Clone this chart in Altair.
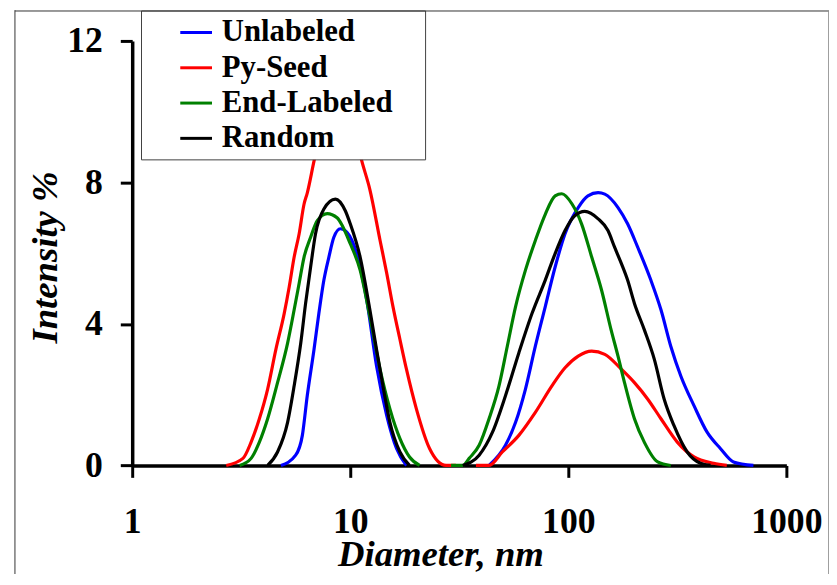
import altair as alt
import pandas as pd

series = ["Unlabeled", "Py-Seed", "End-Labeled", "Random"]
colors = ["#0000FF", "#FF0000", "#008000", "#000000"]
x_ticks = [1, 10, 100, 1000]
y_ticks = [0, 4, 8, 12]

# Unlabeled (blue)
unl_d1 = [4.81, 5.62, 6.03, 6.35, 6.82, 7.18, 7.57, 7.98, 8.41, 9.01, 9.66, 10.7, 11.9, 13.2, 14.7, 16.3, 18.1]
unl_i1 = [0, 0.29, 0.85, 1.97, 3.28, 4.30, 5.24, 5.89, 6.45, 6.69, 6.59, 5.99, 4.68, 2.81, 1.41, 0.48, 0]
unl_d2 = [43.3, 51.5, 57.3, 63.6, 70.6, 78.4, 87.0, 96.6, 111, 123, 137, 147, 169, 187, 208, 239, 266, 295, 328, 377, 433, 498, 572, 706]
unl_i2 = [0, 0.57, 1.22, 2.16, 3.37, 4.49, 5.61, 6.55, 7.29, 7.62, 7.71, 7.67, 7.29, 6.83, 6.17, 5.24, 4.40, 3.37, 2.53, 1.69, 0.94, 0.48, 0.10, 0]

# Py-Seed (red)
py_d1 = [2.70, 3.22, 3.51, 3.83, 4.18, 4.56, 4.98, 5.25, 5.53, 5.83, 6.14, 6.35, 6.82, 7.44, 8.09, 8.79, 9.56, 10.4, 11.3, 12.3, 13.7, 14.7, 15.7, 16.9, 18.1, 20.1, 23.1, 27.5, 30.5]
py_i1 = [0, 0.20, 0.66, 1.32, 2.16, 3.28, 4.30, 5.05, 5.89, 6.55, 7.39, 7.70, 8.60, 9.60, 10.1, 10.3, 10.1, 9.50, 8.60, 7.80, 6.36, 5.43, 4.49, 3.56, 2.72, 1.60, 0.48, 0, 0]
py_d2 = [37.7, 43.3, 49.8, 59.3, 70.6, 84.1, 96.6, 111, 128, 147, 175, 201, 231, 266, 316, 377, 464, 533]
py_i2 = [0, 0, 0.38, 0.85, 1.50, 2.25, 2.76, 3.09, 3.23, 3.14, 2.72, 2.34, 1.88, 1.32, 0.66, 0.24, 0.06, 0]

# End-Labeled (green)
end_d1 = [3.11, 3.51, 3.83, 4.18, 4.64, 5.16, 5.53, 5.83, 6.14, 6.58, 7.06, 7.84, 8.70, 10.0, 11.1, 12.3, 13.7, 15.2, 16.9, 18.7, 20.8]
end_i1 = [0, 0.20, 0.66, 1.32, 2.34, 3.46, 4.40, 5.15, 5.89, 6.45, 6.92, 7.12, 7.00, 6.27, 5.52, 4.21, 2.72, 1.60, 0.76, 0.24, 0]
end_d2 = [29.0, 32.8, 35.1, 39.0, 43.3, 48.1, 52.5, 57.3, 63.6, 70.6, 78.4, 87.0, 93.3, 104, 115, 128, 142, 157, 169, 181, 201, 223, 257, 295]
end_i2 = [0, 0, 0.20, 0.57, 1.32, 2.25, 3.37, 4.49, 5.52, 6.36, 7.10, 7.62, 7.68, 7.39, 6.83, 5.89, 4.96, 3.84, 3.09, 2.34, 1.32, 0.66, 0.10, 0]

# Random (black)
ran_d1 = [4.18, 4.64, 5.16, 5.53, 5.93, 6.24, 6.58, 6.93, 7.57, 8.55, 9.49, 10.0, 11.1, 12.3, 13.2, 14.2, 15.2, 16.9, 18.7]
ran_i1 = [0, 0.38, 1.22, 2.25, 3.46, 4.58, 5.61, 6.55, 7.25, 7.53, 7.20, 6.83, 5.89, 4.40, 3.28, 2.16, 1.22, 0.38, 0]
ran_d2 = [32.8, 39.0, 44.9, 51.5, 59.3, 68.2, 78.4, 87.0, 96.6, 107, 119, 137, 152, 163, 175, 187, 201, 223, 248, 275, 305, 351, 404, 449]
ran_i2 = [0, 0.29, 0.94, 1.97, 3.18, 4.30, 5.24, 5.99, 6.64, 7.06, 7.18, 6.97, 6.64, 6.17, 5.71, 5.24, 4.58, 3.84, 3.00, 1.88, 1.13, 0.38, 0.06, 0]

segments = [
    ("Unlabeled", [(unl_d1, unl_i1), (unl_d2, unl_i2)]),
    ("Py-Seed", [(py_d1, py_i1), (py_d2, py_i2)]),
    ("End-Labeled", [(end_d1, end_i1), (end_d2, end_i2)]),
    ("Random", [(ran_d1, ran_i1), (ran_d2, ran_i2)]),
]

rows = []
for name, segs in segments:
    for k, (ds, vs) in enumerate(segs):
        for d, v in zip(ds, vs):
            rows.append({"series": name, "seg": f"{name}-{k}", "d": d, "v": v})
df = pd.DataFrame(rows)

FONT = "Liberation Serif"

lines = alt.Chart(df).mark_line(strokeWidth=3.2, interpolate="monotone").encode(
    x=alt.X(
        "d:Q",
        scale=alt.Scale(type="log", domain=[1, 1000], nice=False),
        axis=alt.Axis(
            values=x_ticks, format="d", title="Diameter, nm",
            labelPadding=28, labelFlush=False, labelOverlap=False,
            titleX=311, titleY=101, titleBaseline="alphabetic",
        ),
    ),
    y=alt.Y(
        "v:Q",
        scale=alt.Scale(domain=[0, 12], nice=False),
        axis=alt.Axis(
            values=y_ticks, title="Intensity %",
            labelPadding=18, labelFlush=False, labelOverlap=False,
            titleX=-76.6, titleY=218, titleAngle=270, titleBaseline="alphabetic",
        ),
    ),
    color=alt.Color(
        "series:N",
        scale=alt.Scale(domain=series, range=colors),
        sort=series,
        legend=alt.Legend(
            title=None, orient="none", legendX=47, legendY=-26,
            symbolType="stroke", symbolSize=1024, symbolStrokeWidth=3,
            labelFont=FONT, labelFontSize=31, labelFontWeight="bold",
            labelColor="black", labelOffset=8.4, rowPadding=2.6,
            padding=0, symbolOffset=0, labelLimit=400,
        ),
    ),
    detail="seg:N",
)

one = alt.Data(values=[{}])
box = alt.Chart(one).mark_rect(fill="white", stroke="#404040", strokeWidth=1).encode(
    x=alt.value(9.4), x2=alt.value(296), y=alt.value(-30.2), y2=alt.value(120)
)
frame_l = alt.Chart(one).mark_rule(color="#333333", strokeWidth=1).encode(
    x=alt.value(-118.3), y=alt.value(-31), y2=alt.value(540)
)
frame_t = alt.Chart(one).mark_rule(color="#333333", strokeWidth=1).encode(
    x=alt.value(-118.3), x2=alt.value(702.7), y=alt.value(-30.2)
)
frame_r = alt.Chart(one).mark_rule(color="#888888", strokeWidth=1).encode(
    x=alt.value(702.7), y=alt.value(-31), y2=alt.value(540)
)

chart = alt.layer(lines, box, frame_l, frame_t, frame_r).properties(
    width=660,
    height=428.3,
    padding={"left": 125.3, "top": 30.7, "right": 43, "bottom": 107},
    autosize=alt.AutoSizeParams(type="none"),
).configure_view(stroke="transparent").configure_axis(
    grid=False,
    domainColor="black", domainWidth=3.5,
    tickColor="black", tickWidth=3, tickSize=12,
    labelFont=FONT, labelFontSize=36, labelFontWeight="bold", labelColor="black",
    titleFont=FONT, titleFontSize=37, titleFontWeight="bold", titleFontStyle="italic",
    titleColor="black",
)

chart.save("out.html", embed_options={"renderer": "svg", "actions": False})
